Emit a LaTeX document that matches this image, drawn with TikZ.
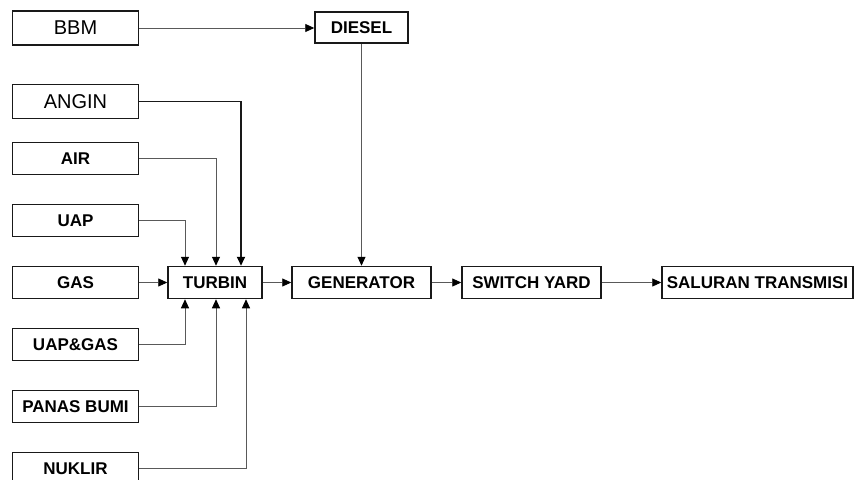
\documentclass[tikz,border=0pt]{standalone}
\usepackage{fontspec}
\setmainfont{Liberation Sans}
\usetikzlibrary{arrows.meta, positioning}

\begin{document}
\begin{tikzpicture}[
    x=1pt, y=1pt,
    node distance=28.5pt and 28.5pt,
    source/.style={rectangle, draw=black!90, line width=1.5pt, minimum width=126pt, minimum height=32pt, inner sep=0pt, text centered, font=\fontsize{17}{20}\selectfont\bfseries},
    fuel/.style={source, minimum height=34pt, font=\fontsize{20}{24}\selectfont},
    block/.style={rectangle, draw=black!90, line width=1.5pt, minimum height=32pt, inner sep=0pt, text centered, font=\fontsize{17}{20}\selectfont\bfseries},
    arrow/.style={->, >={Triangle[length=9pt,width=8pt,color=black]}, line width=0.9pt, draw=black!65},
    heavy/.style={arrow, line width=1.8pt, draw=black!90}
]
    \useasboundingbox (0,0) rectangle (856,-479);

    % Energy sources (left column)
    \node [source] (gas) at (75.5,-282.5) {GAS};
    \node [source, above=of gas] (uap) {UAP};
    \node [source, above=of uap] (air) {AIR};
    \node [fuel, above=22.5pt of air] (angin) {ANGIN};
    \node [fuel, above=38pt of angin] (bbm) {BBM};
    \node [source, below=of gas] (uapgas) {UAP\&GAS};
    \node [source, below=of uapgas] (panas) {PANAS BUMI};
    \node [source, below=of panas] (nuklir) {NUKLIR};

    % Main chain
    \node [block, minimum width=94pt, right=28pt of gas] (turbin) {TURBIN};
    \node [block, minimum width=139pt, right=of turbin] (generator) {GENERATOR};
    \node [block, minimum width=139pt, right=29.5pt of generator] (switch) {SWITCH YARD};
    \node [block, minimum width=191pt, right=59.5pt of switch] (saluran) {SALURAN TRANSMISI};
    \node [block, minimum width=93pt, minimum height=31pt, above=222pt of generator] (diesel) {DIESEL};

    % Connections
    \draw [arrow] (bbm.east) -- (bbm.east -| diesel.west);
    \draw [arrow] (diesel) -- (generator);
    \draw [heavy] (angin.east) -| ([xshift=26pt]turbin.north);
    \draw [arrow] (air.east) -| ([xshift=1pt]turbin.north);
    \draw [arrow] (uap.east) -| ([xshift=-30pt]turbin.north);
    \draw [arrow] (gas) -- (turbin);
    \draw [arrow] (uapgas.east) -| ([xshift=-30pt]turbin.south);
    \draw [arrow] (panas.east) -| ([xshift=1pt]turbin.south);
    \draw [arrow] (nuklir.east) -| ([xshift=31pt]turbin.south);
    \draw [arrow] (turbin) -- (generator);
    \draw [arrow] (generator) -- (switch);
    \draw [arrow] (switch) -- (saluran);
\end{tikzpicture}
\end{document}
